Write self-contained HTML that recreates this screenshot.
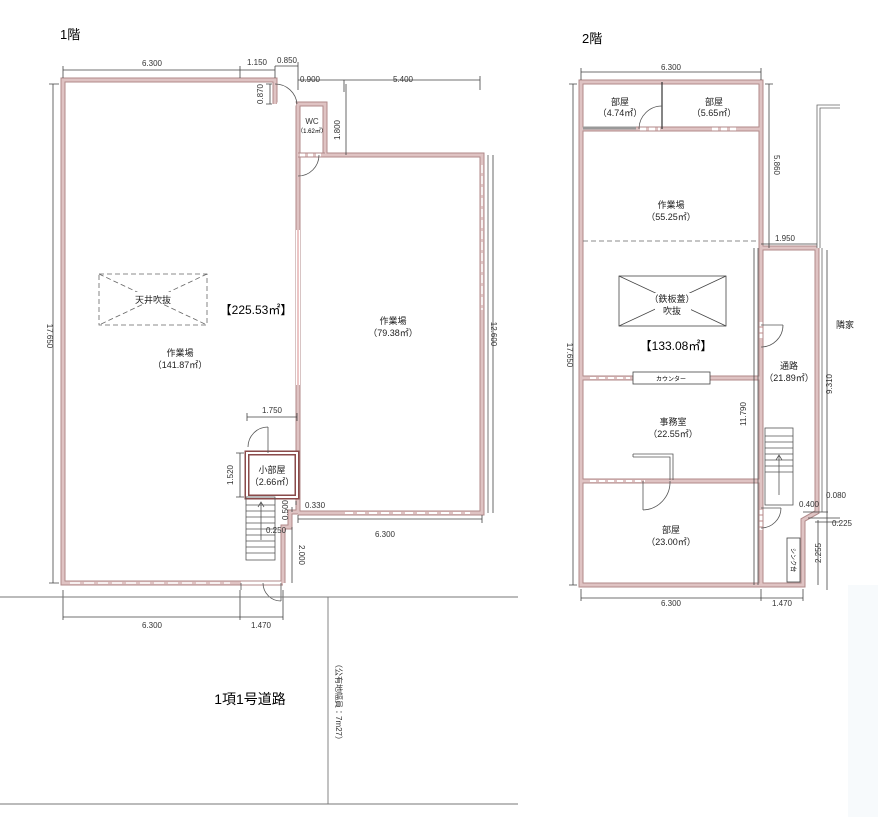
<!DOCTYPE html>
<html><head><meta charset="utf-8"><style>
html,body{margin:0;padding:0;background:#fff;}
svg{display:block;font-family:"Liberation Sans","Noto Sans CJK JP",sans-serif;}
.w{fill:none;stroke:#b08a8a;stroke-width:5;stroke-linejoin:miter;}
.wi{fill:none;stroke:#dfc3c3;stroke-width:3;stroke-linejoin:miter;}
.d{stroke:#444;stroke-width:0.8;fill:none;}
.t{font-size:8px;fill:#333;}
.r{font-size:9px;fill:#222;}
.th{stroke:#555;stroke-width:0.8;fill:none;}
.dash{stroke:#666;stroke-width:0.8;fill:none;stroke-dasharray:5 3;}
</style></head><body>
<svg width="878" height="817" viewBox="0 0 878 817" xmlns="http://www.w3.org/2000/svg">
<text x="60" y="39" font-size="13">1階</text>
<text x="582" y="43" font-size="13">2階</text>

<!-- ===== 1F walls ===== -->
<g>
<path class="w" d="M275 104 L275 80 L63 80 L63 583 L283 583 M283 583 L283 527 L290 527 L290 512 L298 512 M298 512 L298 104 L325 104 L325 155 L482 155 L482 513 L298 513"/>
<path class="wi" d="M275 104 L275 80 L63 80 L63 583 L283 583 M283 583 L283 527 L290 527 L290 512 L298 512 M298 512 L298 104 L325 104 L325 155 L482 155 L482 513 L298 513"/>
<path class="w" d="M298 155 L325 155"/><path class="wi" d="M298 155 L325 155"/>
<path class="w" d="M247 453 L297 453 L297 497 L247 497 Z" style="stroke:#8a4a4a"/>
<path class="wi" d="M247 453 L297 453 L297 497 L247 497 Z" style="stroke:#fff;stroke-width:2"/>
</g>
<path d="M277 104 L296 104" stroke="#fff" stroke-width="3" stroke-dasharray="5 3"/>
<path d="M300 155 L323 155" stroke="#fff" stroke-width="3" stroke-dasharray="5 3"/>
<path d="M345 513 L470 513" stroke="#fff" stroke-width="2" stroke-dasharray="8 4"/>
<path d="M482 165 L482 310" stroke="#fff" stroke-width="1.5" stroke-dasharray="8 3"/>
<path d="M70 583 L230 583" stroke="#fff" stroke-width="1.5" stroke-dasharray="10 4"/>
<path d="M241 583 L281 583" stroke="#fff" stroke-width="3"/>
<line x1="298" y1="230" x2="298" y2="385" stroke="#fff" stroke-width="4"/>
<line x1="298" y1="230" x2="298" y2="385" stroke="#d07070" stroke-width="0.8"/>
<line x1="488" y1="155" x2="488" y2="513" class="th"/>
<path class="th" d="M275 84 A22 22 0 0 1 297 104"/>
<path class="th" d="M298 176 A21 21 0 0 0 319 155"/>
<path class="th" d="M268 427 A20 20 0 0 0 248 447 M268 427 L268 453"/>
<path class="th" d="M263 583 A18 18 0 0 0 281 601 M281 583 L281 601 M241 583 L241 590"/>
<g class="th"><rect x="246" y="497" width="29" height="63"/>
<path d="M246 505H275M246 511H275M246 517H275M246 523H275M246 529H275M246 535H275M246 541H275M246 547H275M246 553H275"/>
<path d="M261 540 L261 502 M258 507 L261 502 L264 507"/></g>
<rect x="99" y="274" width="108" height="51" class="dash"/>
<path d="M99 274 L207 325 M207 274 L99 325" class="dash"/>
<rect x="135" y="292" width="38" height="12" fill="#fff"/>
<text x="153" y="303" class="r" text-anchor="middle">天井吹抜</text>
<text x="256" y="314" font-size="12" text-anchor="middle">【225.53㎡】</text>
<text x="180" y="356" class="r" text-anchor="middle">作業場</text>
<text x="180" y="368" class="r" text-anchor="middle">（141.87㎡）</text>
<text x="393" y="324" class="r" text-anchor="middle">作業場</text>
<text x="393" y="336" class="r" text-anchor="middle">（79.38㎡）</text>
<text x="312" y="124" class="t" text-anchor="middle">WC</text>
<text x="312" y="133" font-size="6" text-anchor="middle">（1.62㎡）</text>
<text x="272" y="473" class="r" text-anchor="middle">小部屋</text>
<text x="272" y="485" class="r" text-anchor="middle">（2.66㎡）</text>

<g class="d">
<path d="M63 70 L275 70 M63 66V78 M240 66V78 M275 66V78 M275 66 L298 66 M298 62V78 M298 80 L480 80 M298 76V90 M480 76V90 M344 80V92"/>
<path d="M53 84 V583 M49 84H59 M49 583H59"/>
<path d="M493 155 V513"/>
<path d="M270 84V104 M266 84H272 M266 104H272"/>
<path d="M346 84V155"/>
<path d="M247 417H297 M247 413V421 M297 413V421"/>
<path d="M240 453V497 M236 453H244 M236 497H244"/>
<path d="M298 519H482 M298 515V523 M482 515V523"/>
<path d="M292 527V583 M296 501V505 M292 507V512"/>
<path d="M63 590V620 M240 590V620 M283 590V620 M63 617H283"/>
</g>
<g class="t">
<text x="152" y="66" text-anchor="middle">6.300</text>
<text x="257" y="65" text-anchor="middle">1.150</text>
<text x="287" y="63" text-anchor="middle">0.850</text>
<text x="310" y="82" text-anchor="middle">0.900</text>
<text x="403" y="82" text-anchor="middle">5.400</text>
<text x="385" y="537" text-anchor="middle">6.300</text>
<text x="272" y="413" text-anchor="middle">1.750</text>
<text x="152" y="628" text-anchor="middle">6.300</text>
<text x="261" y="628" text-anchor="middle">1.470</text>
<text x="305" y="508">0.330</text>
<text x="266" y="533">0.250</text>
<text transform="translate(47,336) rotate(90)" text-anchor="middle">17.650</text>
<text transform="translate(491,334) rotate(90)" text-anchor="middle">12.600</text>
<text transform="translate(263,94) rotate(-90)" text-anchor="middle">0.870</text>
<text transform="translate(340,130) rotate(-90)" text-anchor="middle">1.800</text>
<text transform="translate(233,475) rotate(-90)" text-anchor="middle">1.520</text>
<text transform="translate(288,510) rotate(-90)" text-anchor="middle">0.500</text>
<text transform="translate(299,555) rotate(90)" text-anchor="middle">2.000</text>
</g>

<g stroke="#777" stroke-width="0.9">
<line x1="0" y1="597" x2="518" y2="597"/>
<line x1="0" y1="804" x2="518" y2="804"/>
<line x1="328" y1="597" x2="328" y2="804"/>
</g>
<text x="250" y="704" font-size="14" text-anchor="middle">1項1号道路</text>
<text transform="translate(336,702) rotate(90)" font-size="8" text-anchor="middle" fill="#333">（公有地幅員：7m27）</text>

<!-- ===== 2F ===== -->
<g>
<path class="w" d="M581 82 L761 82 L761 585 L581 585 Z M581 129 L761 129 M761 248 L817 248 M761 585 L803 585 L803 520 L817 512 L817 248 M581 378 L761 378 M581 481 L761 481"/>
<path class="wi" d="M581 82 L761 82 L761 585 L581 585 Z M581 129 L761 129 M761 248 L817 248 M761 585 L803 585 L803 520 L817 512 L817 248 M581 378 L761 378 M581 481 L761 481"/>
</g>
<line x1="662" y1="82" x2="662" y2="129" stroke="#333" stroke-width="1.2"/>
<line x1="583" y1="128" x2="636" y2="128" stroke="#999" stroke-width="3"/>
<path d="M640 129 L660 129 M712 129 L736 129" stroke="#fff" stroke-width="3" stroke-dasharray="6 3"/>
<path d="M590 378 L630 378 M590 481 L645 481" stroke="#fff" stroke-width="2" stroke-dasharray="6 3"/>
<line x1="758" y1="248" x2="758" y2="585" class="th"/>
<line x1="583" y1="241" x2="759" y2="241" class="dash"/>
<path d="M761 322 L761 340" stroke="#fff" stroke-width="3" stroke-dasharray="4 2"/>
<path d="M761 510 L761 530" stroke="#fff" stroke-width="3" stroke-dasharray="4 2"/>
<path d="M817 248 L817 105 L840 105 M820 248 L820 108 L840 108 M822 248 L822 512" stroke="#666" stroke-width="0.8" fill="none"/>
<path class="th" d="M639 129 A23 23 0 0 1 662 106"/>
<path class="th" d="M761 347 A22 22 0 0 0 783 325 M761 325H783"/>
<path class="th" d="M761 528 A20 20 0 0 0 781 508 M761 508H781"/>
<path class="th" d="M643 510 L643 481 M643 510 A28 28 0 0 0 670 481"/>
<path class="th" d="M633 454 L673 454 L673 480 M633 454V457 M633 457L670 457 L670 480"/>
<rect x="633" y="372" width="77" height="12" fill="#fff" stroke="#444" stroke-width="0.8"/>
<text x="671" y="381" font-size="6" text-anchor="middle">カウンター</text>
<rect x="619" y="276" width="107" height="50" fill="none" stroke="#444" stroke-width="0.8"/>
<path d="M619 276 L726 326 M726 276 L619 326" stroke="#444" stroke-width="0.8"/>
<rect x="655" y="293" width="36" height="24" fill="#fff"/>
<text x="672" y="302" class="r" text-anchor="middle">（鉄板蓋）</text>
<text x="672" y="314" class="r" text-anchor="middle">吹抜</text>
<text x="676" y="350" font-size="12" text-anchor="middle">【133.08㎡】</text>
<g class="th"><rect x="765" y="428" width="28" height="77"/>
<path d="M765 436H793M765 442H793M765 448H793M765 454H793M765 460H793M765 466H793M765 472H793"/>
<path d="M779 495 L779 455 M776 460 L779 455 L782 460"/></g>
<rect x="787" y="538" width="13" height="44" fill="#fff" stroke="#444" stroke-width="0.8"/>
<text transform="translate(791,560) rotate(90)" font-size="6" text-anchor="middle">シンク台</text>
<g class="r" text-anchor="middle">
<text x="620" y="105">部屋</text><text x="620" y="116">（4.74㎡）</text>
<text x="714" y="105">部屋</text><text x="714" y="116">（5.65㎡）</text>
<text x="671" y="208">作業場</text><text x="671" y="220">（55.25㎡）</text>
<text x="789" y="369">通路</text><text x="789" y="381">（21.89㎡）</text>
<text x="673" y="425">事務室</text><text x="673" y="437">（22.55㎡）</text>
<text x="671" y="533">部屋</text><text x="671" y="545">（23.00㎡）</text>
<text x="845" y="328">隣家</text>
</g>
<g class="d">
<path d="M581 72H761 M581 68V80 M761 68V80"/>
<path d="M573 84V585 M569 84H577 M569 585H577"/>
<path d="M769 84V248 M765 84H773"/>
<path d="M761 244H817"/>
<path d="M754 248V585"/>
<path d="M827 250V590"/>
<path d="M581 589V601 M761 589V601 M803 589V601 M581 598H803"/>
<path d="M818 520V585"/>
<path d="M803 512H828 M808 518H840 M815 522H840"/>
</g>
<g class="t">
<text x="671" y="70" text-anchor="middle">6.300</text>
<text x="785" y="241" text-anchor="middle">1.950</text>
<text x="671" y="606" text-anchor="middle">6.300</text>
<text x="782" y="606" text-anchor="middle">1.470</text>
<text x="809" y="507" text-anchor="middle">0.400</text>
<text x="836" y="498" text-anchor="middle">0.080</text>
<text x="842" y="526" text-anchor="middle">0.225</text>
<text transform="translate(567,355) rotate(90)" text-anchor="middle">17.650</text>
<text transform="translate(774,165) rotate(90)" text-anchor="middle">5.860</text>
<text transform="translate(746,414) rotate(-90)" text-anchor="middle">11.790</text>
<text transform="translate(832,384) rotate(-90)" text-anchor="middle">9.310</text>
<text transform="translate(821,553) rotate(-90)" text-anchor="middle">2.255</text>
</g>
<rect x="848" y="585" width="30" height="232" fill="#f7fafc"/>
</svg>
</body></html>
